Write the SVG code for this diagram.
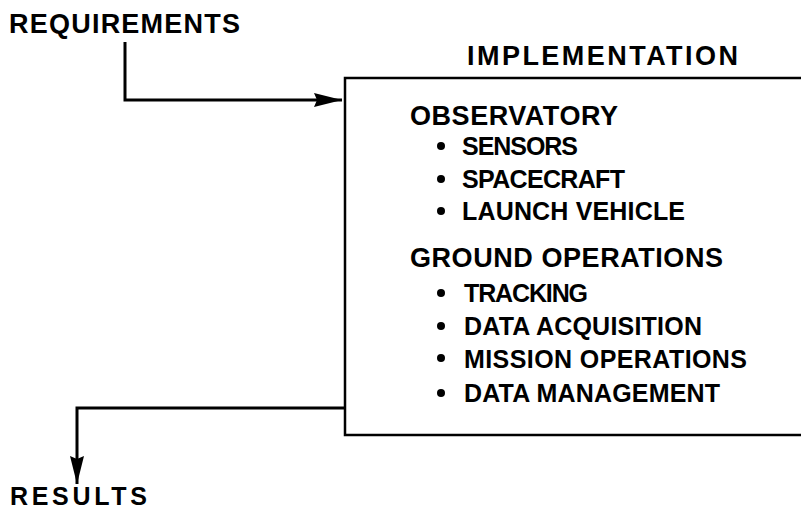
<svg xmlns="http://www.w3.org/2000/svg" width="801" height="511" viewBox="0 0 801 511">
<defs>
<style>
.t{font-family:"Liberation Sans",Arial,sans-serif;font-weight:bold;fill:#000}
.h{font-size:27px}
.i{font-size:25px}
.ln{fill:none;stroke:#000;stroke-width:3}
</style>
<marker id="ah2" markerWidth="28" markerHeight="14" refX="28" refY="7" orient="auto" markerUnits="userSpaceOnUse" viewBox="0 0 28 14">
<path d="M0,0 L28,7 L0,14 L3,7 z" fill="#000"/>
</marker>
</defs>
<rect width="801" height="511" fill="#fff"/>
<g id="requirements">
<text class="t h" x="9" y="33" textLength="231" lengthAdjust="spacing">REQUIREMENTS</text>
</g>
<g id="implementation">
<rect x="345" y="78" width="470" height="357" fill="none" stroke="#000" stroke-width="2.5"/>
<text class="t h" x="467" y="65" textLength="271" lengthAdjust="spacing">IMPLEMENTATION</text>
<text class="t h" x="410" y="125" textLength="208" lengthAdjust="spacing">OBSERVATORY</text>
<circle cx="441" cy="146" r="4"/>
<text class="t i" x="462" y="155" textLength="116" lengthAdjust="spacing">SENSORS</text>
<circle cx="441" cy="179" r="4"/>
<text class="t i" x="462" y="188" textLength="163" lengthAdjust="spacing">SPACECRAFT</text>
<circle cx="441" cy="211" r="4"/>
<text class="t i" x="462" y="220" textLength="223" lengthAdjust="spacing">LAUNCH VEHICLE</text>
<text class="t h" x="410" y="267" textLength="313" lengthAdjust="spacing">GROUND OPERATIONS</text>
<circle cx="441" cy="293" r="4"/>
<text class="t i" x="464" y="302" textLength="124" lengthAdjust="spacing">TRACKING</text>
<circle cx="441" cy="326" r="4"/>
<text class="t i" x="464" y="335" textLength="238" lengthAdjust="spacing">DATA ACQUISITION</text>
<circle cx="441" cy="358" r="4"/>
<text class="t i" x="464" y="368" textLength="283" lengthAdjust="spacing">MISSION OPERATIONS</text>
<circle cx="441" cy="393" r="4"/>
<text class="t i" x="464" y="402" textLength="256" lengthAdjust="spacing">DATA MANAGEMENT</text>
</g>
<g id="results">
<text class="t" style="font-size:25px" x="10" y="505" textLength="137" lengthAdjust="spacing">RESULTS</text>
</g>
<g id="connectors">
<path class="ln" d="M125,42 V100 H342" marker-end="url(#ah2)"/>
<path class="ln" d="M345,408 H77 V484" marker-end="url(#ah2)"/>
</g>
</svg>
